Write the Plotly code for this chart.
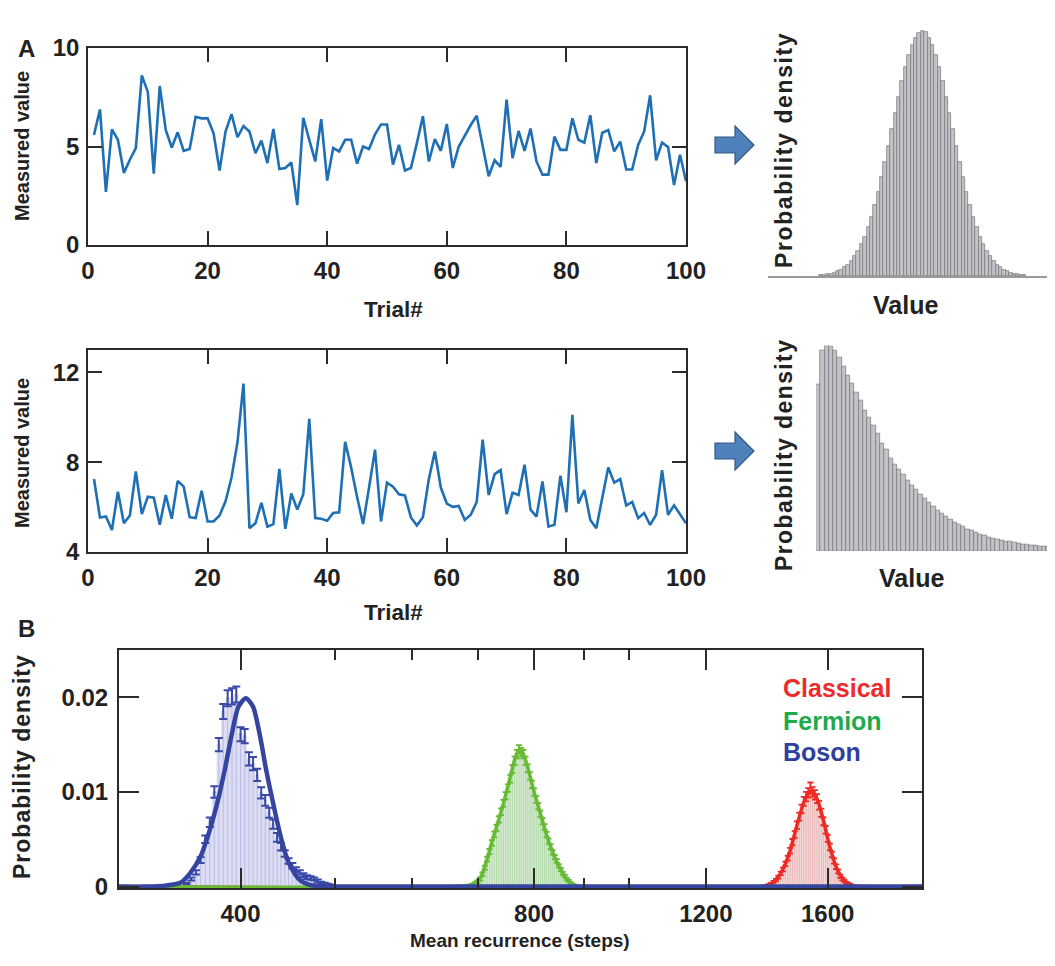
import math
import plotly.graph_objects as go

# ---------------- data ----------------
trials = list(range(1, 101))

series_top = [5.59, 6.88, 2.70, 5.87, 5.34, 3.66, 4.33, 4.92, 8.61, 7.77,
              3.62, 8.07, 5.84, 4.95, 5.72, 4.78, 4.87, 6.51, 6.43, 6.43,
              5.67, 3.78, 5.76, 6.64, 5.47, 6.04, 5.76, 4.66, 5.30, 4.16,
              5.89, 3.86, 3.91, 4.19, 2.03, 6.46, 5.34, 4.24, 6.39, 3.27,
              4.92, 4.75, 5.34, 5.34, 4.13, 5.00, 4.87, 5.62, 6.12, 6.12,
              4.08, 5.08, 3.78, 3.91, 5.17, 6.54, 4.24, 5.37, 4.78, 6.14,
              3.91, 5.00, 5.54, 6.09, 6.56, 5.03, 3.49, 4.30, 3.96, 7.38,
              4.41, 5.79, 4.78, 5.91, 4.24, 3.57, 3.57, 5.50, 4.83, 4.83,
              6.43, 5.34, 5.20, 6.59, 4.16, 5.70, 5.84, 4.75, 5.25, 3.83,
              3.83, 5.08, 5.76, 7.60, 4.30, 5.20, 4.97, 3.04, 4.58, 3.24]

series_bottom = [7.25, 5.54, 5.58, 4.98, 6.69, 5.28, 5.63, 7.59, 5.69, 6.46,
                 6.42, 5.21, 6.54, 5.48, 7.17, 6.91, 5.55, 5.51, 6.73, 5.36,
                 5.36, 5.63, 6.26, 7.32, 8.90, 11.50, 5.06, 5.28, 6.19, 5.13,
                 5.24, 7.70, 5.03, 6.61, 5.89, 6.57, 9.93, 5.51, 5.48, 5.39,
                 5.74, 5.77, 8.91, 7.77, 6.45, 5.25, 6.87, 8.56, 5.36, 7.09,
                 6.91, 6.57, 6.52, 5.54, 5.18, 5.55, 7.25, 8.48, 6.87, 6.16,
                 6.01, 6.05, 5.43, 5.66, 6.23, 9.01, 6.54, 7.47, 7.65, 5.69,
                 6.64, 6.54, 7.89, 5.89, 5.58, 7.14, 5.13, 5.21, 7.40, 5.77,
                 10.11, 6.16, 6.76, 5.43, 5.06, 6.42, 7.77, 7.09, 7.25, 6.07,
                 6.23, 5.51, 5.74, 5.21, 5.66, 7.65, 5.66, 6.08, 5.69, 5.28]

hist_top_bins = list(range(-30, 31))
hist_top_vals = [0.003, 0.005, 0.007, 0.010, 0.014, 0.019, 0.026, 0.035, 0.047, 0.062,
                 0.080, 0.102, 0.129, 0.161, 0.199, 0.242, 0.290, 0.344, 0.403, 0.466,
                 0.532, 0.600, 0.668, 0.734, 0.797, 0.854, 0.904, 0.945, 0.975, 0.992,
                 1.000, 0.996, 0.975, 0.945, 0.904, 0.854, 0.797, 0.734, 0.668, 0.600,
                 0.532, 0.466, 0.403, 0.344, 0.290, 0.242, 0.199, 0.161, 0.129, 0.102,
                 0.080, 0.062, 0.047, 0.035, 0.026, 0.019, 0.014, 0.010, 0.007, 0.005,
                 0.003]

hist_bot_bins = list(range(0, 56))
hist_bot_vals = [0.81, 0.975, 1.000, 0.995, 0.975, 0.94, 0.90, 0.855, 0.815, 0.77,
                 0.73, 0.685, 0.65, 0.61, 0.57, 0.525, 0.495, 0.45, 0.42, 0.395,
                 0.37, 0.345, 0.32, 0.30, 0.277, 0.255, 0.236, 0.216, 0.198, 0.182,
                 0.166, 0.151, 0.138, 0.127, 0.117, 0.107, 0.098, 0.089, 0.081, 0.075,
                 0.068, 0.062, 0.057, 0.052, 0.047, 0.044, 0.039, 0.036, 0.033, 0.031,
                 0.028, 0.026, 0.023, 0.021, 0.020, 0.018]

boson_x = [352, 356, 360, 364, 368, 372, 376, 380, 384, 388, 392, 396, 400, 404, 408,
           412, 416, 420, 424, 428, 432, 436, 440, 444, 448, 452, 456, 460, 464, 468,
           472, 476, 480, 484, 488, 492, 496]
boson_y = [0.0003, 0.0008, 0.0015, 0.0028, 0.0050, 0.0068, 0.0100, 0.0150, 0.0185, 0.0199,
           0.0201, 0.0203, 0.0161, 0.0159, 0.0135, 0.0130, 0.0118, 0.0099, 0.0091, 0.0078,
           0.0066, 0.0052, 0.0042, 0.0035, 0.0027, 0.0022, 0.0018, 0.0015, 0.0012, 0.0010,
           0.0009, 0.0008, 0.0006, 0.0004, 0.0003, 0.0002, 0.0001]
boson_err = [0.0001, 0.00017, 0.00023, 0.0003, 0.0004, 0.0005, 0.0006, 0.0007, 0.0008, 0.00085,
             0.00085, 0.00085, 0.00075, 0.00075, 0.0007, 0.0007, 0.00065, 0.0006, 0.00057, 0.00053,
             0.0005, 0.00045, 0.0004, 0.00035, 0.0003, 0.00028, 0.00025, 0.00023, 0.0002, 0.00019,
             0.00018, 0.00017, 0.00015, 0.00012, 0.0001, 0.0001, 0.0001]

fermion_x = [680, 684, 688, 692, 696, 700, 704, 708, 712, 716, 720, 724, 728, 732, 736,
             740, 744, 748, 752, 756, 760, 764, 768, 772, 776, 780, 784, 788, 792, 796,
             800, 804, 808, 812, 816, 820, 824, 828, 832, 836, 840, 844, 848, 852, 856,
             860, 864, 868, 872, 876, 880]
fermion_y = [0.0000, 0.0001, 0.0001, 0.0002, 0.0003, 0.0005, 0.0008, 0.0013, 0.0020, 0.0029,
             0.0037, 0.0046, 0.0055, 0.0062, 0.0071, 0.0079, 0.0088, 0.0096, 0.0104, 0.0114,
             0.0124, 0.0133, 0.0140, 0.0145, 0.0142, 0.0140, 0.0133, 0.0125, 0.0117, 0.0108,
             0.0100, 0.0092, 0.0085, 0.0077, 0.0069, 0.0063, 0.0055, 0.0048, 0.0042, 0.0036,
             0.0031, 0.0027, 0.0022, 0.0018, 0.0014, 0.0011, 0.0008, 0.0006, 0.0004, 0.0002,
             0.0001]
fermion_err = [0.00005, 0.00008, 0.0001, 0.0001, 0.00012, 0.00015, 0.00018, 0.0002, 0.00022, 0.00025,
               0.00027, 0.0003, 0.0003, 0.00032, 0.00033, 0.00035, 0.00036, 0.00038, 0.0004, 0.0004,
               0.00042, 0.00043, 0.00045, 0.00045, 0.00045, 0.00045, 0.00043, 0.00042, 0.0004, 0.0004,
               0.00038, 0.00036, 0.00035, 0.00033, 0.00032, 0.0003, 0.00028, 0.00027, 0.00025, 0.00023,
               0.00022, 0.0002, 0.00018, 0.00016, 0.00015, 0.00013, 0.00011, 0.0001, 0.00008, 0.00006,
               0.00005]

classical_x = [1392, 1400, 1408, 1416, 1424, 1432, 1440, 1448, 1456, 1464, 1472, 1480, 1488,
               1496, 1504, 1512, 1520, 1528, 1536, 1544, 1552, 1560, 1568, 1576, 1584, 1592,
               1600, 1608, 1616, 1624, 1632, 1640, 1648, 1656, 1664, 1672, 1680, 1688]
classical_y = [0.0002, 0.0003, 0.0005, 0.0007, 0.0010, 0.0014, 0.0018, 0.0024, 0.0030, 0.0038,
               0.0047, 0.0055, 0.0065, 0.0074, 0.0082, 0.0090, 0.0095, 0.0099, 0.0104, 0.0100,
               0.0097, 0.0093, 0.0086, 0.0078, 0.0069, 0.0060, 0.0051, 0.0042, 0.0034, 0.0027,
               0.0021, 0.0016, 0.0011, 0.0008, 0.0006, 0.0004, 0.0003, 0.0002]
classical_err = [0.00005, 0.00008, 0.0001, 0.00012, 0.00015, 0.00018, 0.0002, 0.00023, 0.00026, 0.0003,
                 0.00033, 0.00036, 0.0004, 0.00042, 0.00045, 0.00048, 0.0005, 0.0005, 0.0006, 0.0005,
                 0.0005, 0.00048, 0.00046, 0.00044, 0.00042, 0.0004, 0.00037, 0.00034, 0.0003, 0.00027,
                 0.00024, 0.0002, 0.00017, 0.00014, 0.00012, 0.0001, 0.00008, 0.00006]

boson_fit_x = [300, 320, 335, 347, 355, 364, 372, 380, 386, 392, 398, 405, 412, 419, 425,
               432, 439, 447, 458, 470, 485, 520, 2000]
boson_fit_y = [0, 0, 0.0001, 0.0004, 0.0014, 0.0032, 0.0060, 0.0095, 0.0127, 0.0162, 0.0190,
               0.0199, 0.0190, 0.0158, 0.0123, 0.0088, 0.0056, 0.0028, 0.0009, 0.0002, 0.00003, 0, 0]
fermion_fit_x = [300, 660, 690, 705, 715, 725, 735, 745, 755, 765, 772, 780, 790, 800, 810,
                 820, 830, 840, 850, 860, 875, 895, 2000]
fermion_fit_y = [0, 0, 0.0002, 0.0010, 0.0027, 0.0049, 0.0069, 0.0090, 0.0113, 0.0136, 0.0145,
                 0.0140, 0.0122, 0.0100, 0.0081, 0.0062, 0.0045, 0.0031, 0.0020, 0.0011, 0.0003, 0, 0]
classical_fit_x = [300, 1370, 1400, 1430, 1460, 1490, 1515, 1538, 1560, 1585, 1610, 1640,
                   1670, 1700, 1730, 2000]
classical_fit_y = [0, 0, 0.0003, 0.0013, 0.0034, 0.0067, 0.0091, 0.0101, 0.0093, 0.0069,
                   0.0040, 0.0016, 0.0005, 0.0001, 0, 0]

B_tickvals = [400, 800, 1200, 1600]
B_minor = [500, 600, 700, 900, 1000]

# ---------------- helpers ----------------
OFF = 8                       # page body margin offset
W, H = 1055 - OFF, 966 - OFF  # figure size so it fills the visible window
FONT = "Liberation Sans, Arial, sans-serif"


def fx(p):
    return (p - OFF) / W


def fy(p):
    return 1 - (p - OFF) / H


def stems(xs, ys):
    X, Y = [], []
    for a, b in zip(xs, ys):
        X += [a, a, None]
        Y += [0, b, None]
    return X, Y


LINE_BLUE = "#1f6fb5"
AX = "#2b2b2b"

fig = go.Figure()

# Panel A line charts
fig.add_trace(go.Scatter(x=trials, y=series_top, mode="lines",
                         line=dict(color=LINE_BLUE, width=2.6), xaxis="x", yaxis="y"))
fig.add_trace(go.Scatter(x=trials, y=series_bottom, mode="lines",
                         line=dict(color=LINE_BLUE, width=2.6), xaxis="x3", yaxis="y3"))

# Panel A histograms
fig.add_trace(go.Bar(x=hist_top_bins, y=hist_top_vals, width=1,
                     marker=dict(color="#c2c3c7", line=dict(color="#747578", width=0.7)),
                     xaxis="x2", yaxis="y2"))
fig.add_trace(go.Bar(x=hist_bot_bins, y=hist_bot_vals, width=1,
                     marker=dict(color="#c2c3c7", line=dict(color="#747578", width=0.7)),
                     xaxis="x4", yaxis="y4"))

# Panel B
groups = [
    (classical_x, classical_y, classical_err, "rgba(240,205,205,0.75)", "rgba(225,160,160,0.8)", "#ee2a24", 1.8, 3),
    (fermion_x, fermion_y, fermion_err, "rgba(205,230,200,0.75)", "rgba(150,205,140,0.8)", "#66bb33", 1.8, 3),
    (boson_x, boson_y, boson_err, "rgba(208,210,238,0.75)", "rgba(165,170,220,0.8)", "#3a4aa8", 2.0, 4),
]
for xs, ys, es, fillc, stemc, c, th, wd in groups:
    fig.add_trace(go.Scatter(x=xs, y=ys, mode="lines", line=dict(width=0, shape="hvh"),
                             fill="tozeroy", fillcolor=fillc, xaxis="x5", yaxis="y5"))
    sx, sy = stems(xs, ys)
    fig.add_trace(go.Scatter(x=sx, y=sy, mode="lines", line=dict(color=stemc, width=0.8),
                             xaxis="x5", yaxis="y5"))
for xs, ys, es, fillc, stemc, c, th, wd in groups:
    fig.add_trace(go.Scatter(x=xs, y=ys, mode="markers", marker=dict(size=2, color=c),
                             error_y=dict(type="data", array=es, color=c, thickness=th, width=wd),
                             xaxis="x5", yaxis="y5"))

fits = [
    (classical_fit_x, classical_fit_y, "#ee2a24", 3.5),
    (fermion_fit_x, fermion_fit_y, "#66bb33", 3.5),
    (boson_fit_x, boson_fit_y, "#34449f", 4.5),
]
for xs, ys, c, w in fits:
    fig.add_trace(go.Scatter(x=xs, y=ys, mode="lines",
                             line=dict(color=c, width=w, shape="spline", smoothing=0.7),
                             xaxis="x5", yaxis="y5"))

tickfont = dict(family=FONT, size=24, color="#222", weight="bold")
tickfontB = dict(family=FONT, size=24, color="#222", weight="bold")

box = dict(showline=True, linecolor=AX, linewidth=1.6, mirror="ticks", ticks="inside",
           ticklen=14, tickwidth=1.6, tickcolor=AX, showgrid=False, zeroline=False,
           tickfont=tickfont, automargin=False)

hidden = dict(visible=False, showgrid=False, zeroline=False, fixedrange=True, automargin=False)

fig.update_layout(
    template="none",
    width=W, height=H,
    margin=dict(l=0, r=0, t=0, b=0, pad=0, autoexpand=False),
    paper_bgcolor="white", plot_bgcolor="rgba(0,0,0,0)",
    showlegend=False, bargap=0,
    xaxis=dict(domain=[fx(88), fx(686)], range=[0, 100], tickvals=[0, 20, 40, 60, 80, 100],
               anchor="y", ticklabelstandoff=3, **box),
    yaxis=dict(domain=[fy(245), fy(48)], range=[0, 10], tickvals=[0, 5, 10], anchor="x",
               ticklabelstandoff=2, **box),
    xaxis3=dict(domain=[fx(88), fx(686)], range=[0, 100], tickvals=[0, 20, 40, 60, 80, 100],
                anchor="y3", ticklabelstandoff=3, **box),
    yaxis3=dict(domain=[fy(552), fy(350)], range=[4, 13], tickvals=[4, 8, 12], anchor="x3",
                ticklabelstandoff=2, **box),
    xaxis2=dict(domain=[fx(768), fx(1055)], range=[-45.5, 39], anchor="y2", showline=True,
                linecolor="#9a9a9c", linewidth=1.5, showticklabels=False, ticks="",
                showgrid=False, zeroline=False, automargin=False),
    yaxis2=dict(domain=[fy(276), fy(29)], range=[0, 1.01], anchor="x2", **hidden),
    xaxis4=dict(domain=[fx(816), fx(1055)], range=[-0.5, 55.5], anchor="y4", **hidden),
    yaxis4=dict(domain=[fy(551), fy(345.5)], range=[0, 1.0], anchor="x4", **hidden),
    xaxis5=dict(domain=[fx(118.7), fx(922.2)], type="log",
                range=[math.log10(300), math.log10(2000)],
                tickvals=B_tickvals, ticktext=[str(v) for v in B_tickvals],
                anchor="y5", showline=True, linecolor=AX, linewidth=1.6, mirror="ticks",
                ticks="inside", ticklen=20, tickwidth=1.6, tickcolor=AX, showgrid=False,
                zeroline=False, tickfont=tickfontB, automargin=False, ticklabelstandoff=3,
                minor=dict(tickmode="array", tickvals=B_minor, ticks="inside", ticklen=10,
                           tickwidth=1.6, tickcolor=AX, showgrid=False)),
    yaxis5=dict(domain=[fy(888), fy(650)], range=[-0.00015, 0.025], tickvals=[0, 0.01, 0.02],
                ticktext=["0", "0.01", "0.02"], anchor="x5", showline=True, linecolor=AX,
                linewidth=1.6, mirror="ticks", ticks="inside", ticklen=20, tickwidth=1.6,
                tickcolor=AX, showgrid=False, zeroline=False, tickfont=tickfontB,
                automargin=False, ticklabelstandoff=4),
)


def label(text, x, y, size=20, angle=0, color="#222", xanchor="center", spacing=None):
    if spacing:
        text = f'<span style="letter-spacing:{spacing}px">{text}</span>'
    fig.add_annotation(text=text, x=fx(x), y=fy(y), xref="paper", yref="paper",
                       showarrow=False, textangle=angle, xanchor=xanchor, yanchor="middle",
                       font=dict(family=FONT, size=size, color=color, weight="bold"))


label("A", 26, 49, size=24)
label("B", 26, 628, size=24)
label("Measured value", 22, 146, size=20, angle=-90)
label("Measured value", 22, 453, size=20, angle=-90)
label("Trial#", 393, 310, size=22.5)
label("Trial#", 393, 612, size=22.5)
label("Probability density", 784, 150, size=23, angle=-90, spacing=1.6)
label("Probability density", 784, 455, size=23, angle=-90, spacing=1.4)
label("Value", 905, 305, size=25)
label("Value", 911, 578, size=25)
label("Probability density", 22, 767, size=23, angle=-90, spacing=1.0)
label("Mean recurrence (steps)", 520, 940, size=19)
label("Classical", 781, 688, size=25, color="#ee2b2b", xanchor="left")
label("Fermion", 781, 721, size=25, color="#1faa4b", xanchor="left")
label("Boson", 781, 752, size=25, color="#2e3f9e", xanchor="left")


def arrow_path(x0, yc):
    pts = [(x0, yc - 8), (x0 + 20, yc - 8), (x0 + 20, yc - 19), (x0 + 39, yc),
           (x0 + 20, yc + 19), (x0 + 20, yc + 8), (x0, yc + 8)]
    s = "M " + " L ".join(f"{fx(a):.5f},{fy(b):.5f}" for a, b in pts) + " Z"
    return s


for yc in (145, 451):
    fig.add_shape(type="path", path=arrow_path(715, yc), xref="paper", yref="paper",
                  fillcolor="#4f81bd", line=dict(color="#34597f", width=1.2))

fig.write_html("out.html")
